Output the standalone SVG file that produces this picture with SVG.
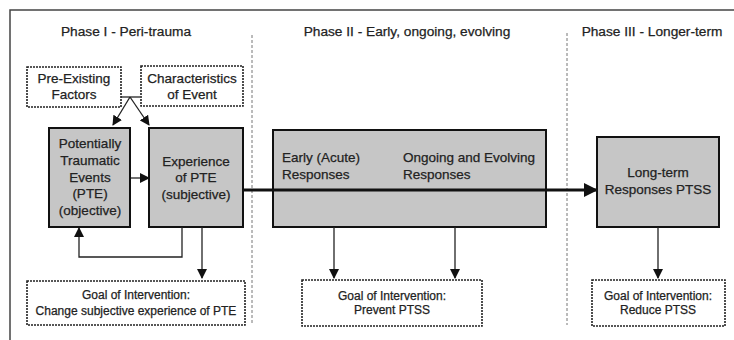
<svg xmlns="http://www.w3.org/2000/svg" width="734" height="340" viewBox="0 0 734 340">
<defs>
<style>
text{font-family:"Liberation Sans",Arial,sans-serif;font-size:13.5px;fill:#222;stroke:#222;stroke-width:0.25;}
.t{text-anchor:middle;}
.title{font-size:13.7px;}
.g{font-size:12px;}
.box{fill:#c6c6c6;stroke:#111;stroke-width:2;}
.dash{fill:#fff;stroke:#222;stroke-width:1.6;stroke-dasharray:2 1;}
.sep{stroke:#777;stroke-width:1;stroke-dasharray:3 2;fill:none;}
.ln{stroke:#222;stroke-width:1.3;fill:none;}
.thick{stroke:#111;stroke-width:3;fill:none;}
</style>
<marker id="ah" markerWidth="10" markerHeight="10" refX="9" refY="5" orient="auto" markerUnits="userSpaceOnUse" viewBox="0 0 10 10">
<path d="M0,0 L10,5 L0,10 z" fill="#111"/>
</marker>
<marker id="ahb" markerWidth="14" markerHeight="14" refX="13" refY="7" orient="auto" markerUnits="userSpaceOnUse" viewBox="0 0 14 14">
<path d="M0,0 L14,7 L0,14 z" fill="#111"/>
</marker>
</defs>
<rect width="734" height="340" fill="#fff"/>
<path d="M10,340 V10 H734" fill="none" stroke="#444" stroke-width="1.5"/>
<line class="sep" x1="252" y1="35" x2="252" y2="325"/>
<line class="sep" x1="567" y1="33" x2="567" y2="325"/>
<text class="t title" x="126" y="36">Phase I - Peri-trauma</text>
<text class="t title" x="407" y="36">Phase II - Early, ongoing, evolving</text>
<text class="t title" x="652" y="36">Phase III - Longer-term</text>

<g id="preexisting">
<rect class="dash" x="27" y="67" width="94" height="40"/>
<text class="t" x="74" y="83">Pre-Existing</text>
<text class="t" x="74" y="99">Factors</text>
</g>
<g id="characteristics">
<rect class="dash" x="141" y="66" width="102" height="40"/>
<text class="t" x="192" y="83">Characteristics</text>
<text class="t" x="192" y="99">of Event</text>
</g>
<g id="pte">
<rect class="box" x="49" y="128" width="81" height="99"/>
<text class="t" x="90" y="148">Potentially</text>
<text class="t" x="90" y="165">Traumatic</text>
<text class="t" x="90" y="182">Events</text>
<text class="t" x="90" y="198">(PTE)</text>
<text class="t" x="90" y="215">(objective)</text>
</g>
<g id="experience">
<rect class="box" x="149" y="128" width="94" height="99"/>
<text class="t" x="196" y="166">Experience</text>
<text class="t" x="196" y="182">of PTE</text>
<text class="t" x="196" y="199">(subjective)</text>
</g>
<g id="goal1">
<rect class="dash" x="27" y="281" width="218" height="44"/>
<text class="t g" x="136" y="299">Goal of Intervention:</text>
<text class="t g" x="136" y="315">Change subjective experience of PTE</text>
</g>
<g id="phase2box">
<rect class="box" x="273" y="130" width="273" height="97"/>
<text x="282" y="162">Early (Acute)</text>
<text x="282" y="179">Responses</text>
<text x="403" y="162">Ongoing and Evolving</text>
<text x="403" y="179">Responses</text>
</g>
<g id="goal2">
<rect class="dash" x="302" y="280" width="180" height="46"/>
<text class="t g" x="392" y="300">Goal of Intervention:</text>
<text class="t g" x="392" y="314">Prevent PTSS</text>
</g>
<g id="longterm">
<rect class="box" x="597" y="137" width="122" height="90"/>
<text class="t" x="658" y="177">Long-term</text>
<text class="t" x="658" y="194">Responses PTSS</text>
</g>
<g id="goal3">
<rect class="dash" x="592" y="280" width="133" height="46"/>
<text class="t g" x="658" y="300">Goal of Intervention:</text>
<text class="t g" x="658" y="314">Reduce PTSS</text>
</g>

<g id="connectors">
<polyline class="ln" points="121,97 140,97"/>
<line class="ln" x1="130" y1="97" x2="113" y2="125" marker-end="url(#ah)"/>
<line class="ln" x1="130" y1="97" x2="149" y2="125" marker-end="url(#ah)"/>
<line class="ln" x1="131" y1="178" x2="149" y2="178" stroke-width="2" marker-end="url(#ah)"/>
<polyline class="ln" points="182,227 182,257 79,257 79,228" marker-end="url(#ah)"/>
<line class="ln" x1="202" y1="227" x2="202" y2="278" marker-end="url(#ah)"/>
<line class="thick" x1="243" y1="190" x2="597" y2="190" marker-end="url(#ahb)"/>
<line class="ln" x1="334" y1="227" x2="334" y2="278" marker-end="url(#ah)"/>
<line class="ln" x1="455" y1="227" x2="455" y2="278" marker-end="url(#ah)"/>
<line class="ln" x1="658" y1="227" x2="658" y2="278" marker-end="url(#ah)"/>
</g>
</svg>
